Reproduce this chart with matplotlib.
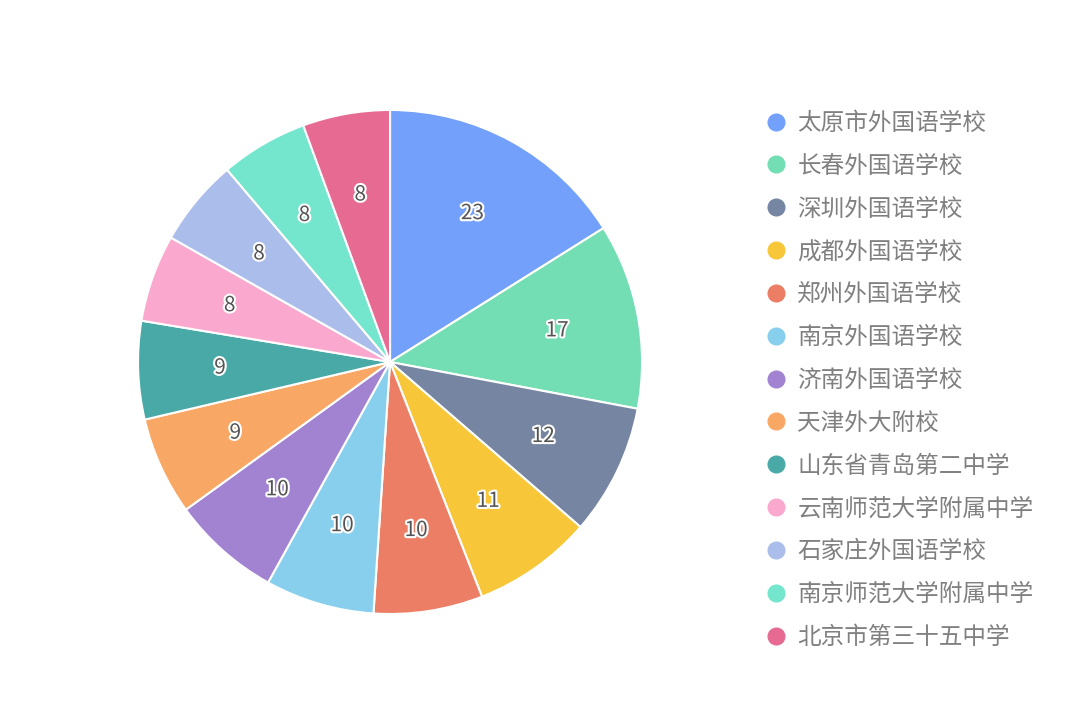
import matplotlib.pyplot as plt
import matplotlib.patheffects as pe
from matplotlib.lines import Line2D

plt.rcParams['font.family'] = ['Noto Sans CJK SC', 'DejaVu Sans']

schools = ['太原市外国语学校', '长春外国语学校', '深圳外国语学校', '成都外国语学校',
           '郑州外国语学校', '南京外国语学校', '济南外国语学校', '天津外大附校',
           '山东省青岛第二中学', '云南师范大学附属中学', '石家庄外国语学校',
           '南京师范大学附属中学', '北京市第三十五中学']
counts = [23, 17, 12, 11, 10, 10, 10, 9, 9, 8, 8, 8, 8]
colors = ['#73a0fa', '#73deb3', '#7585a2', '#f7c739', '#eb7e65', '#87cfec',
          '#a283d2', '#f9a764', '#48a9a6', '#fba8cf', '#abbeeb', '#73e6cd', '#e66a92']

fig = plt.figure(figsize=(10.8, 7.25), dpi=100)
ax = fig.add_axes([0.1278, 0.1531, 0.4667, 0.6952])

wedges, texts = ax.pie(counts, colors=colors, startangle=90, counterclock=False,
                       labels=[str(c) for c in counts], labeldistance=0.675,
                       wedgeprops=dict(edgecolor='white', linewidth=1.5),
                       textprops=dict(fontsize=15, color='#555555', ha='center', va='center'))
for t in texts:
    t.set_path_effects([pe.withStroke(linewidth=3, foreground='white')])
ax.set_xlim(-1, 1)
ax.set_ylim(-1, 1)
ax.set_aspect('equal')

handles = [Line2D([0], [0], marker='o', linestyle='none', markersize=12,
                  markerfacecolor=c, markeredgecolor=c) for c in colors]
leg = fig.legend(handles, schools, loc='upper left', bbox_to_anchor=(0.687, 0.875),
                 frameon=False, fontsize=17, labelcolor='#808080',
                 labelspacing=0.84, handletextpad=0.35, handlelength=1.1)

fig.savefig('out.png', dpi=100)
